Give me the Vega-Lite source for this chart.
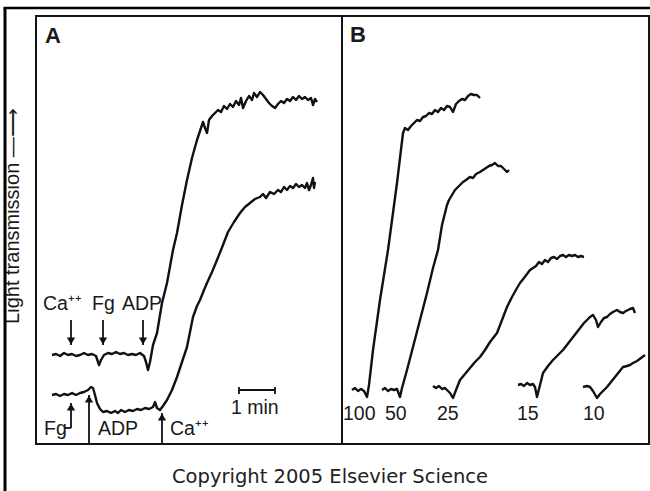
{
  "$schema": "https://vega.github.io/schema/vega-lite/v6.json",
  "width": 613,
  "height": 428,
  "autosize": {"type": "none"},
  "padding": {"left": 36, "top": 16, "right": 1, "bottom": 47},
  "background": "white",
  "config": {"view": {"stroke": "#151515", "strokeWidth": 2}, "font": "Liberation Sans"},
  "datasets": {
    "traces": [
      {"s":"A1","x":16,"y":89},{"s":"A1","x":20,"y":90},{"s":"A1","x":24,"y":88},{"s":"A1","x":28,"y":91},{"s":"A1","x":32,"y":89},{"s":"A1","x":36,"y":90},{"s":"A1","x":40,"y":88},{"s":"A1","x":44,"y":89},{"s":"A1","x":48,"y":91},{"s":"A1","x":52,"y":89},{"s":"A1","x":56,"y":90},{"s":"A1","x":60,"y":88},{"s":"A1","x":63,"y":79},{"s":"A1","x":65,"y":84},{"s":"A1","x":68,"y":89},{"s":"A1","x":72,"y":91},{"s":"A1","x":76,"y":90},{"s":"A1","x":80,"y":92},{"s":"A1","x":84,"y":90},{"s":"A1","x":88,"y":91},{"s":"A1","x":92,"y":89},{"s":"A1","x":96,"y":90},{"s":"A1","x":100,"y":89},{"s":"A1","x":104,"y":91},{"s":"A1","x":108,"y":88},{"s":"A1","x":110,"y":82},{"s":"A1","x":112,"y":74},{"s":"A1","x":114,"y":82},{"s":"A1","x":117,"y":99},{"s":"A1","x":121,"y":111},{"s":"A1","x":126,"y":141},{"s":"A1","x":131,"y":161},{"s":"A1","x":137,"y":194},{"s":"A1","x":141,"y":211},{"s":"A1","x":146,"y":239},{"s":"A1","x":151,"y":264},{"s":"A1","x":156,"y":286},{"s":"A1","x":161,"y":304},{"s":"A1","x":165,"y":316},{"s":"A1","x":167,"y":322},{"s":"A1","x":169,"y":316},{"s":"A1","x":171,"y":311},{"s":"A1","x":173,"y":324},{"s":"A1","x":176,"y":328},{"s":"A1","x":179,"y":331},{"s":"A1","x":182,"y":334},{"s":"A1","x":185,"y":332},{"s":"A1","x":188,"y":338},{"s":"A1","x":191,"y":335},{"s":"A1","x":194,"y":340},{"s":"A1","x":197,"y":337},{"s":"A1","x":200,"y":343},{"s":"A1","x":203,"y":339},{"s":"A1","x":205,"y":346},{"s":"A1","x":207,"y":336},{"s":"A1","x":210,"y":343},{"s":"A1","x":213,"y":348},{"s":"A1","x":216,"y":344},{"s":"A1","x":218,"y":351},{"s":"A1","x":221,"y":347},{"s":"A1","x":224,"y":352},{"s":"A1","x":227,"y":349},{"s":"A1","x":230,"y":345},{"s":"A1","x":233,"y":341},{"s":"A1","x":236,"y":338},{"s":"A1","x":239,"y":336},{"s":"A1","x":242,"y":340},{"s":"A1","x":245,"y":343},{"s":"A1","x":248,"y":341},{"s":"A1","x":251,"y":345},{"s":"A1","x":254,"y":343},{"s":"A1","x":257,"y":347},{"s":"A1","x":260,"y":344},{"s":"A1","x":263,"y":348},{"s":"A1","x":266,"y":345},{"s":"A1","x":269,"y":347},{"s":"A1","x":272,"y":344},{"s":"A1","x":275,"y":346},{"s":"A1","x":277,"y":339},{"s":"A1","x":279,"y":345},{"s":"A1","x":281,"y":342},
      {"s":"A2","x":16,"y":49},{"s":"A2","x":20,"y":50},{"s":"A2","x":24,"y":48},{"s":"A2","x":28,"y":50},{"s":"A2","x":32,"y":49},{"s":"A2","x":36,"y":51},{"s":"A2","x":40,"y":49},{"s":"A2","x":44,"y":51},{"s":"A2","x":48,"y":52},{"s":"A2","x":52,"y":54},{"s":"A2","x":55,"y":57},{"s":"A2","x":57,"y":56},{"s":"A2","x":59,"y":49},{"s":"A2","x":61,"y":41},{"s":"A2","x":64,"y":35},{"s":"A2","x":67,"y":32},{"s":"A2","x":71,"y":33},{"s":"A2","x":75,"y":31},{"s":"A2","x":79,"y":33},{"s":"A2","x":82,"y":31},{"s":"A2","x":85,"y":34},{"s":"A2","x":89,"y":32},{"s":"A2","x":93,"y":34},{"s":"A2","x":97,"y":33},{"s":"A2","x":101,"y":35},{"s":"A2","x":105,"y":34},{"s":"A2","x":109,"y":36},{"s":"A2","x":113,"y":35},{"s":"A2","x":117,"y":37},{"s":"A2","x":119,"y":42},{"s":"A2","x":121,"y":36},{"s":"A2","x":124,"y":34},{"s":"A2","x":127,"y":38},{"s":"A2","x":131,"y":44},{"s":"A2","x":136,"y":54},{"s":"A2","x":141,"y":67},{"s":"A2","x":146,"y":82},{"s":"A2","x":151,"y":97},{"s":"A2","x":154,"y":112},{"s":"A2","x":157,"y":127},{"s":"A2","x":161,"y":138},{"s":"A2","x":164,"y":144},{"s":"A2","x":168,"y":154},{"s":"A2","x":171,"y":161},{"s":"A2","x":176,"y":172},{"s":"A2","x":181,"y":184},{"s":"A2","x":187,"y":199},{"s":"A2","x":192,"y":212},{"s":"A2","x":198,"y":222},{"s":"A2","x":204,"y":231},{"s":"A2","x":209,"y":237},{"s":"A2","x":214,"y":241},{"s":"A2","x":219,"y":245},{"s":"A2","x":224,"y":247},{"s":"A2","x":227,"y":250},{"s":"A2","x":230,"y":246},{"s":"A2","x":234,"y":252},{"s":"A2","x":238,"y":250},{"s":"A2","x":242,"y":254},{"s":"A2","x":245,"y":252},{"s":"A2","x":248,"y":257},{"s":"A2","x":251,"y":254},{"s":"A2","x":254,"y":258},{"s":"A2","x":257,"y":256},{"s":"A2","x":260,"y":260},{"s":"A2","x":263,"y":257},{"s":"A2","x":266,"y":259},{"s":"A2","x":269,"y":256},{"s":"A2","x":271,"y":261},{"s":"A2","x":273,"y":254},{"s":"A2","x":275,"y":259},{"s":"A2","x":277,"y":266},{"s":"A2","x":278,"y":256},{"s":"A2","x":279,"y":262},
      {"s":"B100","x":316,"y":54},{"s":"B100","x":319,"y":56},{"s":"B100","x":322,"y":53},{"s":"B100","x":325,"y":55},{"s":"B100","x":328,"y":53},{"s":"B100","x":331,"y":47},{"s":"B100","x":333,"y":59},{"s":"B100","x":337,"y":94},{"s":"B100","x":344,"y":144},{"s":"B100","x":352,"y":194},{"s":"B100","x":361,"y":261},{"s":"B100","x":367,"y":311},{"s":"B100","x":369,"y":316},{"s":"B100","x":372,"y":314},{"s":"B100","x":375,"y":318},{"s":"B100","x":378,"y":321},{"s":"B100","x":381,"y":324},{"s":"B100","x":384,"y":323},{"s":"B100","x":387,"y":327},{"s":"B100","x":390,"y":328},{"s":"B100","x":393,"y":331},{"s":"B100","x":396,"y":330},{"s":"B100","x":399,"y":334},{"s":"B100","x":402,"y":332},{"s":"B100","x":405,"y":336},{"s":"B100","x":408,"y":334},{"s":"B100","x":411,"y":338},{"s":"B100","x":414,"y":337},{"s":"B100","x":417,"y":332},{"s":"B100","x":420,"y":340},{"s":"B100","x":423,"y":343},{"s":"B100","x":426,"y":345},{"s":"B100","x":429,"y":344},{"s":"B100","x":432,"y":348},{"s":"B100","x":435,"y":350},{"s":"B100","x":438,"y":349},{"s":"B100","x":441,"y":349},{"s":"B100","x":444,"y":346},
      {"s":"B50","x":346,"y":54},{"s":"B50","x":349,"y":56},{"s":"B50","x":352,"y":53},{"s":"B50","x":355,"y":55},{"s":"B50","x":358,"y":54},{"s":"B50","x":361,"y":55},{"s":"B50","x":364,"y":47},{"s":"B50","x":366,"y":56},{"s":"B50","x":371,"y":74},{"s":"B50","x":377,"y":97},{"s":"B50","x":384,"y":124},{"s":"B50","x":391,"y":151},{"s":"B50","x":397,"y":176},{"s":"B50","x":402,"y":194},{"s":"B50","x":406,"y":219},{"s":"B50","x":409,"y":231},{"s":"B50","x":411,"y":239},{"s":"B50","x":413,"y":244},{"s":"B50","x":416,"y":249},{"s":"B50","x":419,"y":254},{"s":"B50","x":423,"y":258},{"s":"B50","x":427,"y":262},{"s":"B50","x":430,"y":264},{"s":"B50","x":434,"y":267},{"s":"B50","x":437,"y":266},{"s":"B50","x":440,"y":270},{"s":"B50","x":444,"y":272},{"s":"B50","x":447,"y":274},{"s":"B50","x":450,"y":276},{"s":"B50","x":453,"y":278},{"s":"B50","x":456,"y":279},{"s":"B50","x":459,"y":281},{"s":"B50","x":462,"y":278},{"s":"B50","x":465,"y":278},{"s":"B50","x":468,"y":275},{"s":"B50","x":471,"y":272},{"s":"B50","x":473,"y":274},
      {"s":"B25","x":397,"y":58},{"s":"B25","x":400,"y":56},{"s":"B25","x":403,"y":58},{"s":"B25","x":406,"y":55},{"s":"B25","x":409,"y":56},{"s":"B25","x":412,"y":53},{"s":"B25","x":414,"y":51},{"s":"B25","x":417,"y":46},{"s":"B25","x":420,"y":54},{"s":"B25","x":424,"y":64},{"s":"B25","x":429,"y":70},{"s":"B25","x":434,"y":76},{"s":"B25","x":439,"y":82},{"s":"B25","x":444,"y":87},{"s":"B25","x":449,"y":94},{"s":"B25","x":454,"y":102},{"s":"B25","x":461,"y":111},{"s":"B25","x":466,"y":124},{"s":"B25","x":471,"y":137},{"s":"B25","x":476,"y":147},{"s":"B25","x":481,"y":156},{"s":"B25","x":484,"y":161},{"s":"B25","x":488,"y":166},{"s":"B25","x":491,"y":170},{"s":"B25","x":494,"y":174},{"s":"B25","x":497,"y":176},{"s":"B25","x":500,"y":178},{"s":"B25","x":503,"y":182},{"s":"B25","x":506,"y":180},{"s":"B25","x":509,"y":184},{"s":"B25","x":512,"y":182},{"s":"B25","x":515,"y":186},{"s":"B25","x":518,"y":187},{"s":"B25","x":521,"y":185},{"s":"B25","x":524,"y":188},{"s":"B25","x":527,"y":189},{"s":"B25","x":530,"y":187},{"s":"B25","x":533,"y":189},{"s":"B25","x":536,"y":188},{"s":"B25","x":539,"y":189},{"s":"B25","x":542,"y":187},{"s":"B25","x":545,"y":188},{"s":"B25","x":548,"y":187},
      {"s":"B15","x":482,"y":59},{"s":"B15","x":485,"y":60},{"s":"B15","x":488,"y":58},{"s":"B15","x":491,"y":61},{"s":"B15","x":494,"y":59},{"s":"B15","x":497,"y":60},{"s":"B15","x":499,"y":57},{"s":"B15","x":501,"y":47},{"s":"B15","x":504,"y":59},{"s":"B15","x":507,"y":71},{"s":"B15","x":512,"y":78},{"s":"B15","x":517,"y":84},{"s":"B15","x":522,"y":89},{"s":"B15","x":527,"y":94},{"s":"B15","x":534,"y":103},{"s":"B15","x":541,"y":112},{"s":"B15","x":548,"y":121},{"s":"B15","x":554,"y":127},{"s":"B15","x":557,"y":129},{"s":"B15","x":560,"y":124},{"s":"B15","x":562,"y":117},{"s":"B15","x":565,"y":122},{"s":"B15","x":568,"y":126},{"s":"B15","x":571,"y":127},{"s":"B15","x":574,"y":130},{"s":"B15","x":577,"y":132},{"s":"B15","x":581,"y":134},{"s":"B15","x":584,"y":132},{"s":"B15","x":587,"y":131},{"s":"B15","x":590,"y":133},{"s":"B15","x":594,"y":135},{"s":"B15","x":597,"y":136},{"s":"B15","x":599,"y":131},
      {"s":"B10","x":547,"y":57},{"s":"B10","x":551,"y":58},{"s":"B10","x":554,"y":57},{"s":"B10","x":557,"y":53},{"s":"B10","x":561,"y":46},{"s":"B10","x":564,"y":50},{"s":"B10","x":568,"y":54},{"s":"B10","x":571,"y":57},{"s":"B10","x":575,"y":62},{"s":"B10","x":579,"y":67},{"s":"B10","x":583,"y":72},{"s":"B10","x":587,"y":77},{"s":"B10","x":591,"y":78},{"s":"B10","x":594,"y":79},{"s":"B10","x":597,"y":81},{"s":"B10","x":601,"y":83},{"s":"B10","x":605,"y":86},{"s":"B10","x":609,"y":89}
    ],
    "arrows": [
      {"x":35,"tip":99,"tail":124,"dir":"down"},
      {"x":67,"tip":99,"tail":124,"dir":"down"},
      {"x":107,"tip":99,"tail":124,"dir":"down"},
      {"x":35,"tip":41,"tail":16,"dir":"up"},
      {"x":53,"tip":49,"tail":0,"dir":"up"},
      {"x":126,"tip":31,"tail":1,"dir":"up"}
    ],
    "segments": [
      {"x":203,"x2":239,"y":54,"y2":54},
      {"x":203,"x2":203,"y":50,"y2":57},
      {"x":239,"x2":239,"y":50,"y2":57},
      {"x":29,"x2":35,"y":16,"y2":16}
    ],
    "labels": [
      {"x":7,"y":134,"label":"Ca⁺⁺"},
      {"x":56,"y":134,"label":"Fg"},
      {"x":86,"y":134,"label":"ADP"},
      {"x":8,"y":9,"label":"Fg"},
      {"x":62,"y":9,"label":"ADP"},
      {"x":134,"y":9,"label":"Ca⁺⁺"},
      {"x":195,"y":30,"label":"1 min"},
      {"x":307,"y":24,"label":"100"},
      {"x":349,"y":24,"label":"50"},
      {"x":401,"y":24,"label":"25"},
      {"x":481,"y":24,"label":"15"},
      {"x":547,"y":24,"label":"10"}
    ],
    "panels": [
      {"x":9,"y":401,"label":"A"},
      {"x":314,"y":402,"label":"B"}
    ],
    "caption": [
      {"x":136,"y":-39,"label":"Copyright 2005  Elsevier Science"}
    ],
    "ytitle": [
      {"x":-23,"y":228,"label":"Light transmission —⟶"}
    ]
  },
  "layer": [
    {
      "data": {"name": "traces"},
      "mark": {"type": "line", "color": "#111", "strokeWidth": 2.4, "strokeJoin": "round"},
      "encoding": {
        "x": {"field": "x", "type": "quantitative", "scale": {"domain": [0, 613], "nice": false, "zero": false}, "axis": null},
        "y": {"field": "y", "type": "quantitative", "scale": {"domain": [0, 428], "nice": false, "zero": false}, "axis": null},
        "detail": {"field": "s"}
      }
    },
    {
      "data": {"name": "arrows"},
      "mark": {"type": "rule", "color": "#111", "strokeWidth": 1.8},
      "encoding": {
        "x": {"field": "x", "type": "quantitative", "scale": {"domain": [0, 613], "nice": false, "zero": false}, "axis": null},
        "y": {"field": "tip", "type": "quantitative", "scale": {"domain": [0, 428], "nice": false, "zero": false}, "axis": null},
        "y2": {"field": "tail"}
      }
    },
    {
      "data": {"name": "arrows"},
      "transform": [{"filter": "datum.dir === 'down'"}],
      "mark": {"type": "point", "shape": "triangle-down", "filled": true, "color": "#111", "size": 70, "opacity": 1, "yOffset": -4},
      "encoding": {
        "x": {"field": "x", "type": "quantitative", "scale": {"domain": [0, 613], "nice": false, "zero": false}, "axis": null},
        "y": {"field": "tip", "type": "quantitative", "scale": {"domain": [0, 428], "nice": false, "zero": false}, "axis": null}
      }
    },
    {
      "data": {"name": "arrows"},
      "transform": [{"filter": "datum.dir === 'up'"}],
      "mark": {"type": "point", "shape": "triangle-up", "filled": true, "color": "#111", "size": 70, "opacity": 1, "yOffset": 4},
      "encoding": {
        "x": {"field": "x", "type": "quantitative", "scale": {"domain": [0, 613], "nice": false, "zero": false}, "axis": null},
        "y": {"field": "tip", "type": "quantitative", "scale": {"domain": [0, 428], "nice": false, "zero": false}, "axis": null}
      }
    },
    {
      "data": {"name": "segments"},
      "mark": {"type": "rule", "color": "#111", "strokeWidth": 1.8},
      "encoding": {
        "x": {"field": "x", "type": "quantitative", "scale": {"domain": [0, 613], "nice": false, "zero": false}, "axis": null},
        "x2": {"field": "x2"},
        "y": {"field": "y", "type": "quantitative", "scale": {"domain": [0, 428], "nice": false, "zero": false}, "axis": null},
        "y2": {"field": "y2"}
      }
    },
    {
      "data": {"name": "labels"},
      "mark": {"type": "text", "align": "left", "baseline": "alphabetic", "font": "Liberation Sans", "fontSize": 19.5, "color": "#1a1a1a"},
      "encoding": {
        "x": {"field": "x", "type": "quantitative", "scale": {"domain": [0, 613], "nice": false, "zero": false}, "axis": null},
        "y": {"field": "y", "type": "quantitative", "scale": {"domain": [0, 428], "nice": false, "zero": false}, "axis": null},
        "text": {"field": "label"}
      }
    },
    {
      "data": {"name": "panels"},
      "mark": {"type": "text", "align": "left", "baseline": "alphabetic", "font": "Liberation Sans", "fontSize": 22, "fontWeight": "bold", "color": "#1a1a1a"},
      "encoding": {
        "x": {"field": "x", "type": "quantitative", "scale": {"domain": [0, 613], "nice": false, "zero": false}, "axis": null},
        "y": {"field": "y", "type": "quantitative", "scale": {"domain": [0, 428], "nice": false, "zero": false}, "axis": null},
        "text": {"field": "label"}
      }
    },
    {
      "data": {"name": "caption"},
      "mark": {"type": "text", "align": "left", "baseline": "alphabetic", "font": "DejaVu Sans", "fontSize": 19.5, "color": "#222"},
      "encoding": {
        "x": {"field": "x", "type": "quantitative", "scale": {"domain": [0, 613], "nice": false, "zero": false}, "axis": null},
        "y": {"field": "y", "type": "quantitative", "scale": {"domain": [0, 428], "nice": false, "zero": false}, "axis": null},
        "text": {"field": "label"}
      }
    },
    {
      "data": {"name": "ytitle"},
      "mark": {"type": "text", "align": "center", "baseline": "middle", "angle": 270, "font": "Liberation Sans", "fontSize": 20, "color": "#1a1a1a"},
      "encoding": {
        "x": {"field": "x", "type": "quantitative", "scale": {"domain": [0, 613], "nice": false, "zero": false}, "axis": null},
        "y": {"field": "y", "type": "quantitative", "scale": {"domain": [0, 428], "nice": false, "zero": false}, "axis": null},
        "text": {"field": "label"}
      }
    },
    {
      "data": {"values": [{}]},
      "mark": {"type": "rule", "color": "#111", "strokeWidth": 2},
      "encoding": {
        "x": {"datum": 306, "type": "quantitative", "scale": {"domain": [0, 613], "nice": false, "zero": false}, "axis": null},
        "y": {"datum": 0, "type": "quantitative", "scale": {"domain": [0, 428], "nice": false, "zero": false}, "axis": null},
        "y2": {"datum": 428}
      }
    },
    {
      "data": {"values": [{}]},
      "mark": {"type": "rule", "color": "#000", "strokeWidth": 3},
      "encoding": {
        "x": {"datum": -31, "type": "quantitative", "scale": {"domain": [0, 613], "nice": false, "zero": false}, "axis": null},
        "y": {"datum": 436, "type": "quantitative", "scale": {"domain": [0, 428], "nice": false, "zero": false}, "axis": null},
        "y2": {"datum": -48}
      }
    },
    {
      "data": {"values": [{}]},
      "mark": {"type": "rule", "color": "#000", "strokeWidth": 2.5},
      "encoding": {
        "x": {"datum": -32.5, "type": "quantitative", "scale": {"domain": [0, 613], "nice": false, "zero": false}, "axis": null},
        "x2": {"datum": 615},
        "y": {"datum": 436, "type": "quantitative", "scale": {"domain": [0, 428], "nice": false, "zero": false}, "axis": null}
      }
    }
  ]
}
